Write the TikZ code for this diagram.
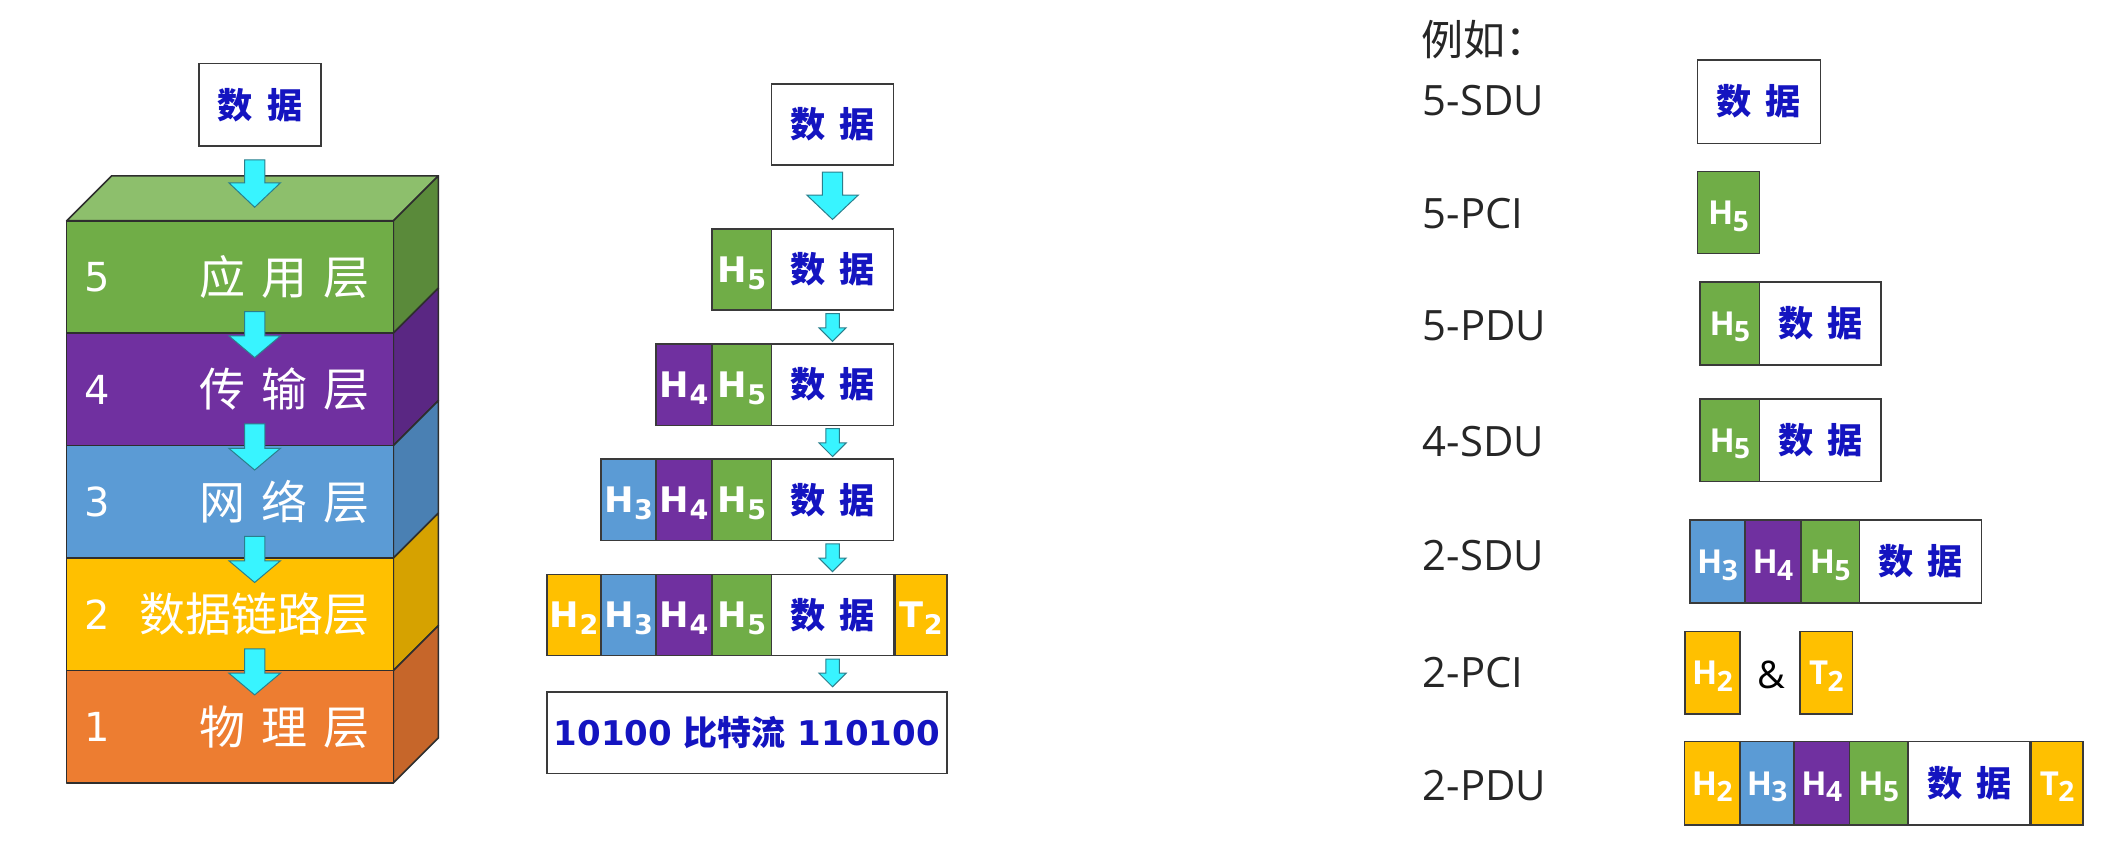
\documentclass[tikz,border=0pt]{standalone}
\usepackage{fontspec}
\setmainfont{Open Sans}
\newfontfamily\cjk{Noto Sans CJK SC}
\newfontfamily\dvs{DejaVu Sans}
\newfontfamily\osans{Open Sans}
\newdimen\pxu \pxu=0.6773pt
\definecolor{lgreen}{HTML}{70AD47}
\definecolor{lgreentop}{HTML}{8DBF6C}
\definecolor{lgreenside}{HTML}{5A8A3A}
\definecolor{lpurple}{HTML}{7030A0}
\definecolor{lpurpleside}{HTML}{5A2783}
\definecolor{lblue}{HTML}{5B9BD5}
\definecolor{lblueside}{HTML}{4A80B3}
\definecolor{lgold}{HTML}{FFC000}
\definecolor{lgoldside}{HTML}{D6A200}
\definecolor{lorange}{HTML}{ED7D31}
\definecolor{lorangeside}{HTML}{C6662A}
\definecolor{acyan}{HTML}{38F4FF}
\definecolor{acyanline}{HTML}{2B7F8C}
\definecolor{datablue}{HTML}{1414C0}
\definecolor{cellline}{HTML}{3A3A3A}
\definecolor{labelgray}{HTML}{262626}
\definecolor{stackedge}{HTML}{2E2E2E}
\newcommand{\datatxt}{{\cjk\bfseries\fontsize{17.6pt}{17.6pt}\selectfont\color{datablue}数\hspace{0.4em}据}}
\newcommand{\midH}[2]{{\dvs\bfseries\fontsize{17.6pt}{17.6pt}\selectfont\color{white}#1\kern0.3pt\raisebox{-3.5pt}[0pt][0pt]{\fontsize{13.5pt}{13.5pt}\selectfont #2}}}
\newcommand{\rgtH}[2]{{\osans\bfseries\fontsize{16.5pt}{16.5pt}\selectfont\color{white}#1\kern-0.3pt\raisebox{-3.4pt}[0pt][0pt]{\fontsize{14pt}{14pt}\selectfont #2}}}
\newcommand{\cellbox}[7]{\node[cell, fill=#6, minimum width=#4*\pxu, minimum height=#5*\pxu] (#1) at (#2,#3) {#7};}
\newcommand{\cyanarrow}[6]{\draw[arrowsty] (#1-#5,#2) -- (#1+#5,#2) -- (#1+#5,#3) -- (#1+#6,#3) -- (#1,#4) -- (#1-#6,#3) -- (#1-#5,#3) -- cycle;}
\begin{document}
\begin{tikzpicture}[x=0.6773pt,y=-0.6773pt,
  cell/.style={draw=cellline, line width=0.8pt, inner sep=0pt, outer sep=0pt, anchor=north west},
  arrowsty/.style={fill=acyan, draw=acyanline, line width=0.5pt, line join=miter},
  stackline/.style={draw=stackedge, line width=0.8pt, line join=round},
  layerbox/.style={stackline, anchor=north west, minimum width=241.2*\pxu, minimum height=83*\pxu, inner sep=0pt, outer sep=0pt},
  layernum/.style={anchor=west, inner sep=0pt, text=white, font=\dvs\fontsize{20pt}{20pt}\selectfont},
  layerlab/.style={anchor=east, inner sep=0pt, text=white, font=\cjk\fontsize{23pt}{23pt}\selectfont},
  rlabel/.style={anchor=west, inner sep=0pt, text=labelgray, font=\osans\fontsize{20.9pt}{20.9pt}\selectfont}
]
\fill[white] (0,0) rectangle (1568,621.6);
\useasboundingbox (0,0) rectangle (1568,621.6);

% ---------- left: layer stack ----------
\cellbox{d0}{147}{47}{90}{61}{white}{\datatxt}
\filldraw[stackline, fill=lgreentop] (49.2,163) -- (82.4,129.8) -- (323.6,129.8) -- (290.4,163) -- cycle;
\foreach \i/\yt/\fc/\sc/\lab in {5/163/lgreen/lgreenside/{应\hspace{.35em}用\hspace{.35em}层},
  4/246/lpurple/lpurpleside/{传\hspace{.35em}输\hspace{.35em}层},
  3/329/lblue/lblueside/{网\hspace{.35em}络\hspace{.35em}层},
  2/412/lgold/lgoldside/{数据链路层},
  1/495/lorange/lorangeside/{物\hspace{.35em}理\hspace{.35em}层}}{
  \filldraw[stackline, fill=\sc] (290.4,\yt) -- (323.6,\yt-33.2) -- (323.6,\yt+83-33.2) -- (290.4,\yt+83) -- cycle;
  \node[layerbox, fill=\fc] (L\i) at (49.2,\yt) {};
  \node[layernum] (N\i) at (62,\yt+41.5) {\i};
  \node[layerlab] (T\i) at (273,\yt+41.5) {\lab};
}
\cyanarrow{188}{118}{135}{153}{7.5}{19}
\foreach \b in {246,329,412,495}{\cyanarrow{188}{\b-16}{\b+2}{\b+18}{7.5}{19}}

% ---------- middle: encapsulation ----------
\cellbox{m0}{569.5}{62}{90.1}{60}{white}{\datatxt}
\cyanarrow{614.6}{127}{144}{162}{7.5}{19}
% row 1
\cellbox{a5}{525.5}{169}{44}{60}{lgreen}{\midH{H}{5}}
\cellbox{ad}{569.5}{169}{90.1}{60}{white}{\datatxt}
% row 2
\cellbox{b4}{484.4}{254}{41.1}{60}{lpurple}{\midH{H}{4}}
\cellbox{b5}{525.5}{254}{44}{60}{lgreen}{\midH{H}{5}}
\cellbox{bd}{569.5}{254}{90.1}{60}{white}{\datatxt}
% row 3
\cellbox{c3}{443.7}{339}{40.7}{60}{lblue}{\midH{H}{3}}
\cellbox{c4}{484.4}{339}{41.1}{60}{lpurple}{\midH{H}{4}}
\cellbox{c5}{525.5}{339}{44}{60}{lgreen}{\midH{H}{5}}
\cellbox{cd}{569.5}{339}{90.1}{60}{white}{\datatxt}
% row 4
\cellbox{e2}{403.6}{424}{40.1}{60}{lgold}{\midH{H}{2}}
\cellbox{e3}{443.7}{424}{40.7}{60}{lblue}{\midH{H}{3}}
\cellbox{e4}{484.4}{424}{41.1}{60}{lpurple}{\midH{H}{4}}
\cellbox{e5}{525.5}{424}{44}{60}{lgreen}{\midH{H}{5}}
\cellbox{ed}{569.5}{424}{90.1}{60}{white}{\datatxt}
\cellbox{et}{660.8}{424}{38.2}{60}{lgold}{\midH{T}{2}}
% bit stream
\cellbox{bits}{403.6}{511}{295.4}{60}{white}{{\dvs\bfseries\fontsize{17pt}{17pt}\selectfont\color{datablue}10100 {\cjk\bfseries 比特流} 110100}}
\foreach \rb in {229,314,399,484}{\cyanarrow{614.6}{\rb+2.5}{\rb+13}{\rb+23}{5}{10}}

% ---------- right: examples ----------
\node[anchor=west, inner sep=0pt, text=labelgray, font=\cjk\fontsize{21pt}{21pt}\selectfont] (eg) at (1049,29) {例如：};
\node[rlabel] (r1) at (1050,74) {5-SDU};
\node[rlabel] (r2) at (1050,157.5) {5-PCI};
\node[rlabel] (r3) at (1050,240.5) {5-PDU};
\node[rlabel] (r4) at (1050,326) {4-SDU};
\node[rlabel] (r5) at (1050,410) {2-SDU};
\node[rlabel] (r6) at (1050,496.5) {2-PCI};
\node[rlabel] (r7) at (1050,580) {2-PDU};

\cellbox{s5d}{1253}{44.3}{90.8}{61.5}{white}{\datatxt}
\cellbox{p5h}{1253}{126.7}{46}{60.5}{lgreen}{\rgtH{H}{5}}
\cellbox{u5h}{1255}{208}{44}{61.5}{lgreen}{\rgtH{H}{5}}
\cellbox{u5d}{1299}{208}{89.6}{61.5}{white}{\datatxt}
\cellbox{s4h}{1255}{294.5}{44}{61}{lgreen}{\rgtH{H}{5}}
\cellbox{s4d}{1299}{294.5}{89.6}{61}{white}{\datatxt}
\cellbox{s2h3}{1247.8}{384}{40.2}{61}{lblue}{\rgtH{H}{3}}
\cellbox{s2h4}{1288}{384}{41.5}{61}{lpurple}{\rgtH{H}{4}}
\cellbox{s2h5}{1329.5}{384}{43.2}{61}{lgreen}{\rgtH{H}{5}}
\cellbox{s2d}{1372.7}{384}{90.2}{61}{white}{\datatxt}
\cellbox{p2h}{1243.8}{466.3}{40.8}{60.8}{lgold}{\rgtH{H}{2}}
\node[inner sep=0pt, text=black, font=\osans\fontsize{19pt}{19pt}\selectfont] (amp) at (1307.3,498) {\&};
\cellbox{p2t}{1328.8}{466.3}{38.8}{60.8}{lgold}{\rgtH{T}{2}}
\cellbox{u2h2}{1243.4}{547.5}{41.2}{61.5}{lgold}{\rgtH{H}{2}}
\cellbox{u2h3}{1284.6}{547.5}{39.8}{61.5}{lblue}{\rgtH{H}{3}}
\cellbox{u2h4}{1324.4}{547.5}{40.8}{61.5}{lpurple}{\rgtH{H}{4}}
\cellbox{u2h5}{1365.2}{547.5}{43.5}{61.5}{lgreen}{\rgtH{H}{5}}
\cellbox{u2d}{1408.7}{547.5}{90.1}{61.5}{white}{\datatxt}
\cellbox{u2t}{1499.5}{547.5}{38.1}{61.5}{lgold}{\rgtH{T}{2}}
\end{tikzpicture}
\end{document}
